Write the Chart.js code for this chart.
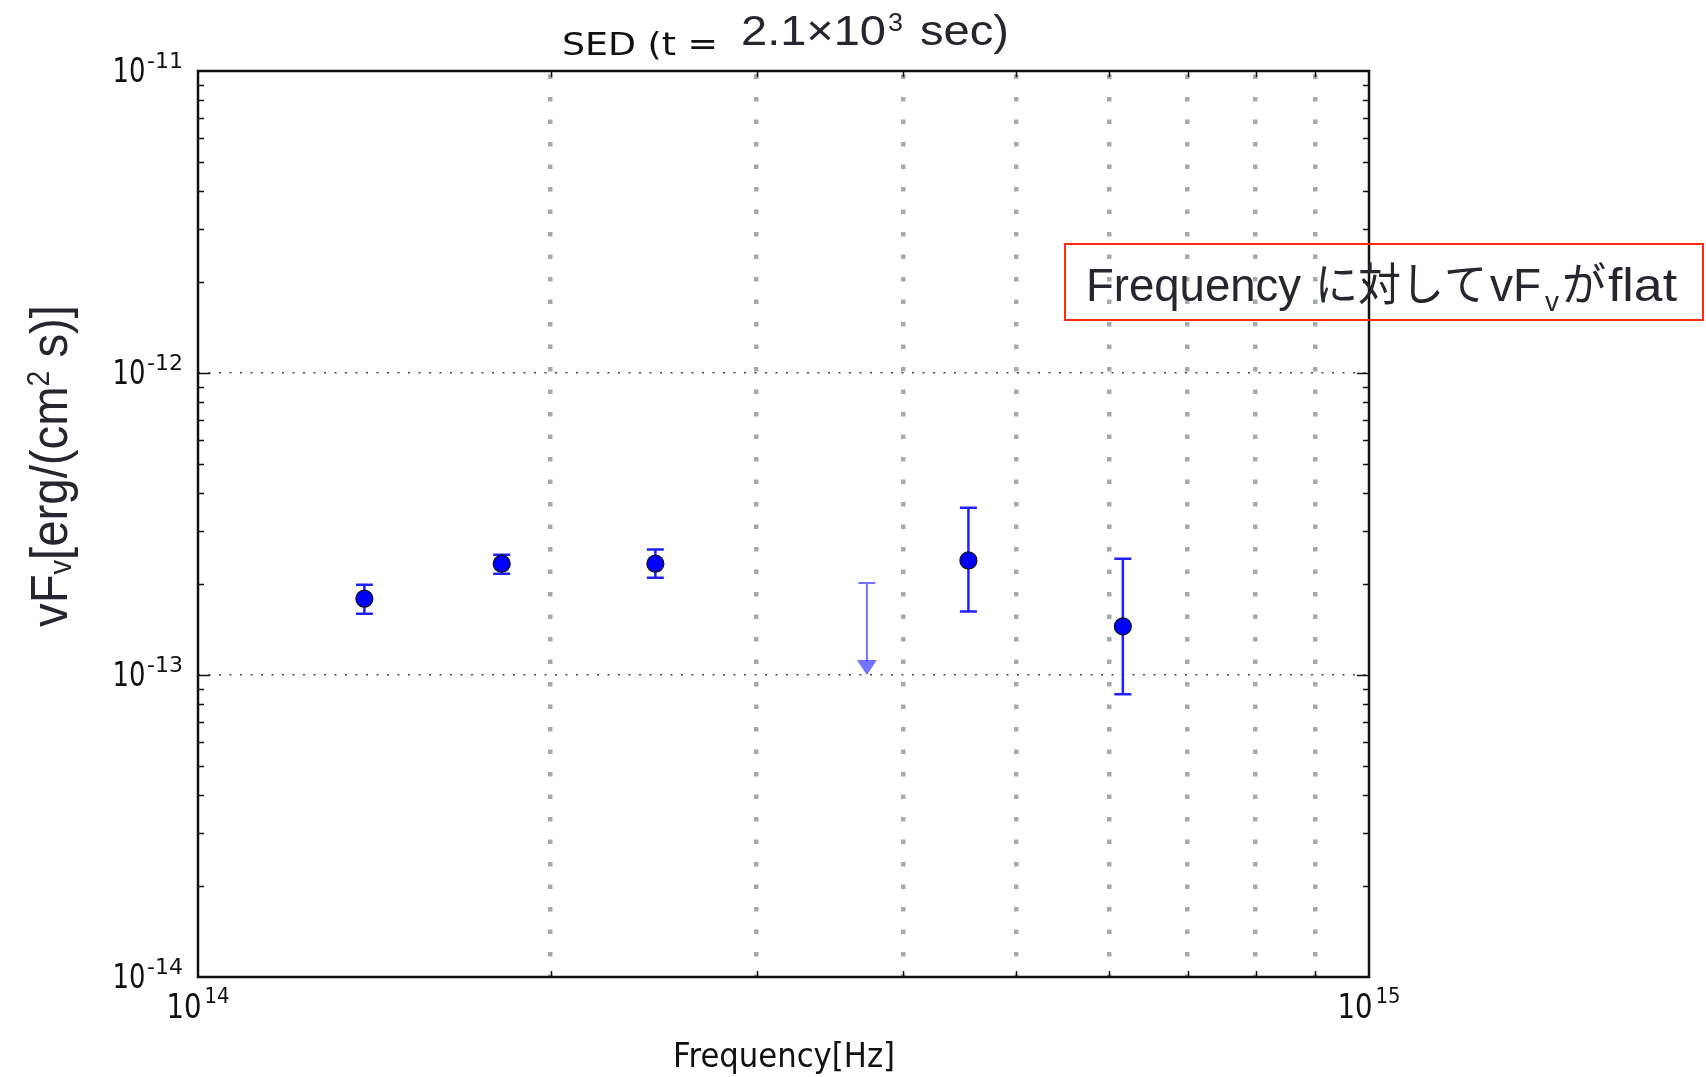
<!DOCTYPE html>
<html><head><meta charset="utf-8">
<script src="https://cdn.jsdelivr.net/npm/chart.js@4.4.1/dist/chart.umd.min.js"></script>
<style>html,body{margin:0;padding:0;background:#fff;overflow:hidden}</style>
</head><body>
<canvas id="c" width="1706" height="1077"></canvas>
<script>
// ---- data ----
const frequencies   = [1.387e14, 1.817e14, 2.458e14, 4.549e14, 6.163e14];
const fluxes        = [1.789e-13, 2.336e-13, 2.336e-13, 2.395e-13, 1.449e-13];
const fluxErrTop    = [1.991e-13, 2.502e-13, 2.605e-13, 3.581e-13, 2.427e-13];
const fluxErrBottom = [1.596e-13, 2.165e-13, 2.100e-13, 1.624e-13, 8.63e-14];
const limitFrequencies = [3.726e14];
const limitFluxes      = [2.015e-13];
const limitArrowEnds   = [1.0e-13];
const xGridValues  = [2e14, 3e14, 4e14, 5e14, 6e14, 7e14, 8e14, 9e14];
const xMajorValues = [1e14, 1e15];
const xMajorExps   = ['14', '15'];
const yGridValues  = [1e-13, 1e-12];
const yMajorValues = [1e-14, 1e-13, 1e-12, 1e-11];
const yMajorExps   = ['-14', '-13', '-12', '-11'];
const yDecades     = [-14, -13, -12];

const DV = '"DejaVu Sans"';
const AR = '"Liberation Sans", Arial, sans-serif';
const JP = '"Noto Sans CJK JP", sans-serif';
const TXT = '#262630';

function drawSeg(ctx, text, font, x, y, targetW, color) {
  ctx.save();
  ctx.font = font;
  ctx.fillStyle = color || '#111';
  ctx.textBaseline = 'alphabetic';
  ctx.textAlign = 'left';
  const w = ctx.measureText(text).width;
  const sx = targetW ? targetW / w : 1;
  ctx.translate(x, y);
  ctx.scale(sx, 1);
  ctx.fillText(text, 0, 0);
  ctx.restore();
  return w * sx;
}
function measure(ctx, text, font) { ctx.save(); ctx.font = font; const w = ctx.measureText(text).width; ctx.restore(); return w; }

const decor = {
  id: 'sedDecor',
  beforeDatasetsDraw(chart) {
    const ctx = chart.ctx, xs = chart.scales.x, ys = chart.scales.y;
    ctx.save();
    // error bars
    ctx.strokeStyle = 'rgba(0,0,255,0.88)';
    ctx.lineWidth = 2.5;
    for (let i = 0; i < frequencies.length; i++) {
      const px = xs.getPixelForValue(frequencies[i]);
      const t = ys.getPixelForValue(fluxErrTop[i]);
      const b = ys.getPixelForValue(fluxErrBottom[i]);
      ctx.beginPath();
      ctx.moveTo(px, t); ctx.lineTo(px, b);
      ctx.moveTo(px - 8.5, t); ctx.lineTo(px + 8.5, t);
      ctx.moveTo(px - 8.5, b); ctx.lineTo(px + 8.5, b);
      ctx.stroke();
    }
    // upper limit arrows
    ctx.strokeStyle = 'rgba(0,0,255,0.55)';
    ctx.fillStyle = 'rgba(0,0,255,0.55)';
    ctx.lineWidth = 2;
    for (let i = 0; i < limitFrequencies.length; i++) {
      const px = xs.getPixelForValue(limitFrequencies[i]);
      const t = ys.getPixelForValue(limitFluxes[i]);
      const tip = ys.getPixelForValue(limitArrowEnds[i]);
      ctx.beginPath();
      ctx.moveTo(px - 8.5, t); ctx.lineTo(px + 8.5, t);
      ctx.moveTo(px, t); ctx.lineTo(px, tip - 14);
      ctx.stroke();
      ctx.beginPath();
      ctx.moveTo(px - 10, tip - 15); ctx.lineTo(px + 10, tip - 15); ctx.lineTo(px, tip);
      ctx.closePath(); ctx.fill();
    }
    ctx.restore();
  },
  afterDraw(chart) {
    const ctx = chart.ctx, a = chart.chartArea, xs = chart.scales.x, ys = chart.scales.y;
    ctx.save();
    // frame
    ctx.strokeStyle = '#111';
    ctx.lineWidth = 2.5;
    ctx.strokeRect(a.left, a.top, a.right - a.left, a.bottom - a.top);
    // ticks
    ctx.lineWidth = 1.5;
    ctx.beginPath();
    xGridValues.forEach(v => {
      const px = Math.round(xs.getPixelForValue(v)) + 0.5;
      ctx.moveTo(px, a.bottom); ctx.lineTo(px, a.bottom - 6);
      ctx.moveTo(px, a.top); ctx.lineTo(px, a.top + 6);
    });
    yDecades.forEach(d => {
      for (let k = 2; k <= 9; k++) {
        const py = Math.round(ys.getPixelForValue(k * Math.pow(10, d))) + 0.5;
        ctx.moveTo(a.left, py); ctx.lineTo(a.left + 6, py);
        ctx.moveTo(a.right, py); ctx.lineTo(a.right - 6, py);
      }
    });
    yGridValues.forEach(v => {
      const py = Math.round(ys.getPixelForValue(v)) + 0.5;
      ctx.moveTo(a.left, py); ctx.lineTo(a.left + 12, py);
      ctx.moveTo(a.right, py); ctx.lineTo(a.right - 12, py);
    });
    ctx.stroke();

    // y tick labels
    yMajorValues.forEach((v, i) => {
      const py = ys.getPixelForValue(v);
      drawSeg(ctx, yMajorExps[i], '21px ' + DV, 147, py - 3.5, 36, '#111');
      drawSeg(ctx, '10', '33px ' + DV, 112.5, py + 10.5, 33, '#111');
    });
    // x tick labels
    xMajorValues.forEach((v, i) => {
      const px = xs.getPixelForValue(v);
      const total = 35 + 3 + 25;
      const x0 = px - total / 2;
      drawSeg(ctx, '10', '33px ' + DV, x0, 1018, 35, '#111');
      drawSeg(ctx, xMajorExps[i], '21px ' + DV, x0 + 38, 1003, 25, '#111');
    });
    // x axis title
    drawSeg(ctx, 'Frequency[Hz]', '33px ' + DV, 673, 1067, 222, '#111');

    // y axis title (rotated)
    ctx.save();
    ctx.translate(67, 627);
    ctx.rotate(-Math.PI / 2);
    const segsY = [
      ['vF', '52px ' + AR, 0],
      ['v', '32px ' + AR, 4],
      ['[erg/(cm', '52px ' + AR, 0],
      ['2', '31px ' + AR, -18],
      [' s)]', '52px ' + AR, 0]
    ];
    let totY = 0; segsY.forEach(s => totY += measure(ctx, s[0], s[1]));
    const syY = 322 / totY;
    let cx = 0;
    segsY.forEach(s => { cx += drawSeg(ctx, s[0], s[1], cx, s[2], measure(ctx, s[0], s[1]) * syY, TXT); });
    ctx.restore();

    // title
    drawSeg(ctx, 'SED (t =', '32px ' + DV, 562, 55, 156, '#111');
    drawSeg(ctx, '2.1×10', '43px ' + AR, 741, 45, 145, TXT);
    drawSeg(ctx, '3', '26px ' + AR, 888, 31, 15, TXT);
    drawSeg(ctx, 'sec)', '43px ' + AR, 920, 45, 89, TXT);

    // annotation box
    ctx.strokeStyle = '#ff2a10';
    ctx.lineWidth = 2;
    ctx.strokeRect(1065, 244, 638, 76);
    drawSeg(ctx, 'Frequency', '46px ' + AR, 1086, 301, 215, TXT);
    drawSeg(ctx, 'に対して', '45px ' + JP, 1315, 301, 172, TXT);
    drawSeg(ctx, 'vF', '46px ' + AR, 1490, 301, null, TXT);
    drawSeg(ctx, 'v', '28px ' + AR, 1545, 311, null, TXT);
    drawSeg(ctx, 'が', '45px ' + JP, 1562, 301, 44, TXT);
    drawSeg(ctx, 'flat', '46px ' + AR, 1608, 301, 69, TXT);
    ctx.restore();
  }
};

new Chart(document.getElementById('c'), {
  type: 'scatter',
  data: {
    datasets: [
      {
        label: 'detections',
        data: frequencies.map((f, i) => ({ x: f, y: fluxes[i] })),
        pointRadius: 8.5,
        pointBackgroundColor: '#0000ff',
        pointBorderColor: '#111',
        pointBorderWidth: 1.2,
        showLine: false
      },
      {
        label: 'upper limits',
        data: limitFrequencies.map((f, i) => ({ x: f, y: limitFluxes[i] })),
        pointRadius: 0,
        showLine: false
      }
    ]
  },
  options: {
    responsive: false,
    animation: false,
    devicePixelRatio: 1,
    layout: { padding: { left: 0, top: 71, right: 337, bottom: 0 } },
    plugins: { legend: { display: false }, tooltip: { enabled: false }, title: { display: false } },
    scales: {
      x: {
        type: 'logarithmic', position: 'bottom', min: 1e14, max: 1e15,
        afterBuildTicks: s => { s.ticks = xGridValues.map(v => ({ value: v })); },
        afterFit: s => { s.height = 100; },
        ticks: { display: false },
        grid: { color: '#a3aca9', lineWidth: 4.5, drawTicks: false },
        border: { display: false, dash: [4.5, 18], dashOffset: 19 }
      },
      y: {
        type: 'logarithmic', position: 'left', min: 1e-14, max: 1e-11,
        afterBuildTicks: s => { s.ticks = yGridValues.map(v => ({ value: v })); },
        afterFit: s => { s.width = 198; },
        ticks: { display: false },
        grid: { color: 'rgba(40,40,40,0.85)', lineWidth: 1.5, drawTicks: false },
        border: { display: false, dash: [2, 8.5] }
      }
    }
  },
  plugins: [decor]
});
</script>
</body></html>
